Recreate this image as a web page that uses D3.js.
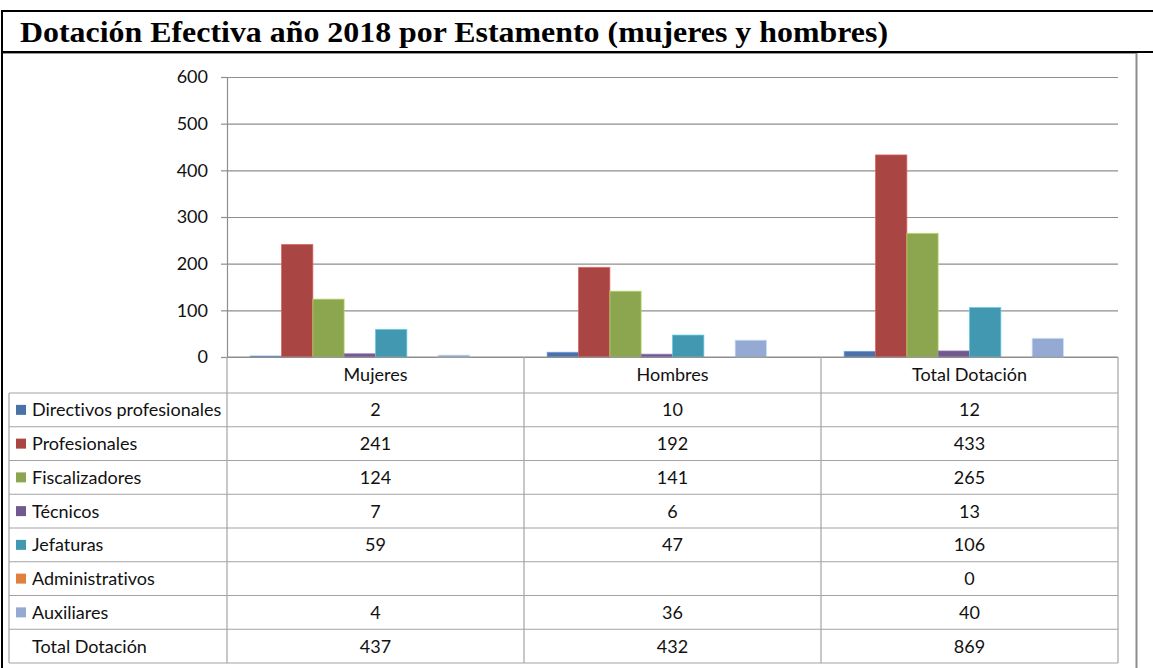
<!DOCTYPE html>
<html>
<head>
<meta charset="utf-8">
<script src="https://cdn.jsdelivr.net/npm/d3@7"></script>
<style>
  html, body { margin: 0; padding: 0; background: #fff; }
  svg { display: block; }
  text { font-variant-ligatures: none; }
</style>
</head>
<body>
<svg id="chart" width="1153" height="668"></svg>
<script>
const title = "Dotación Efectiva año 2018 por Estamento (mujeres y hombres)";
const categories = ["Mujeres", "Hombres", "Total Dotación"];
const seriesNames = ["Directivos profesionales", "Profesionales", "Fiscalizadores", "Técnicos", "Jefaturas", "Administrativos", "Auxiliares", "Total Dotación"];
const mujeres = [2, 241, 124, 7, 59, null, 4, 437];
const hombres = [10, 192, 141, 6, 47, null, 36, 432];
const totalDotacion = [12, 433, 265, 13, 106, 0, 40, 869];
const seriesColors = ["#4A72A8", "#A94542", "#8BA64F", "#715990", "#4298B0", "#E1803E", "#95AAD2", null];
const yTicks = [0, 100, 200, 300, 400, 500, 600];

const valuesByCategory = [mujeres, hombres, totalDotacion];

const svg = d3.select("#chart");
const FONT = "Lato, 'Open Sans', sans-serif";
const FS = 18;
const TXT = "#111";

// ---- Title box ----
svg.append("line").attr("x1", 1).attr("x2", 1153).attr("y1", 11).attr("y2", 11).attr("stroke", "#000").attr("stroke-width", 2);
svg.append("line").attr("x1", 1).attr("x2", 1153).attr("y1", 52).attr("y2", 52).attr("stroke", "#000").attr("stroke-width", 2);
svg.append("line").attr("x1", 2).attr("x2", 2).attr("y1", 10).attr("y2", 668).attr("stroke", "#000").attr("stroke-width", 2);
svg.append("text").attr("x", 20).attr("y", 42)
  .attr("font-family", "'Liberation Serif', 'Times New Roman', serif")
  .attr("font-weight", "bold").attr("font-size", 30).attr("fill", "#000")
  .attr("textLength", 868).attr("lengthAdjust", "spacingAndGlyphs")
  .text(title);

// chart frame
svg.append("line").attr("x1", 3).attr("x2", 1137).attr("y1", 53.5).attr("y2", 53.5).attr("stroke", "#999").attr("stroke-width", 1);
svg.append("line").attr("x1", 1136.5).attr("x2", 1136.5).attr("y1", 53).attr("y2", 668).attr("stroke", "#8c8c8c").attr("stroke-width", 2);

// ---- Scales ----
const plotLeft = 227, plotRight = 1118, plotTop = 77, plotBottom = 357;
const x = d3.scaleBand().domain(categories).range([plotLeft, plotRight]).padding(0);
const xs = d3.scaleBand().domain(seriesNames).range([0, x.bandwidth()]).paddingInner(0).paddingOuter(0.74);
const y = d3.scaleLinear().domain([0, 600]).range([plotBottom, plotTop]);

// gridlines
const grid = svg.append("g").attr("transform", `translate(${plotLeft},0)`)
  .call(d3.axisLeft(y).tickValues(yTicks).tickSize(-(plotRight - plotLeft)).tickFormat(""));
grid.select(".domain").remove();
grid.selectAll(".tick line").attr("stroke", "#8e8e8e").attr("stroke-width", 1.2);

// bars
const barData = [];
categories.forEach((c, ci) => {
  seriesNames.forEach((s, si) => {
    const v = valuesByCategory[ci][si];
    if (v != null && seriesColors[si]) barData.push({ c, s, v, color: seriesColors[si] });
  });
});
svg.append("g").selectAll("rect").data(barData).join("rect")
  .attr("x", d => x(d.c) + xs(d.s))
  .attr("y", d => y(d.v))
  .attr("width", xs.bandwidth())
  .attr("height", d => y(0) - y(d.v))
  .attr("fill", d => d.color)
  .attr("stroke", d => d3.color(d.color).brighter(0.8))
  .attr("stroke-opacity", 0.7)
  .attr("stroke-width", 1);

// y axis
const yAxis = svg.append("g").attr("transform", `translate(${plotLeft},0)`)
  .call(d3.axisLeft(y).tickValues(yTicks).tickSize(6).tickSizeOuter(0).tickPadding(13));
yAxis.select(".domain").attr("stroke", "#8e8e8e").attr("stroke-width", 1.2);
yAxis.selectAll(".tick line").attr("stroke", "#8e8e8e").attr("stroke-width", 1.2);
yAxis.selectAll(".tick text").attr("font-family", FONT).attr("font-size", FS).attr("fill", TXT);

// ---- Data table ----
const tableLeft = 9, tableBottom = 663, headerTop = plotBottom, rowsTop = 393;
const rowY = d3.scaleBand().domain(seriesNames).range([rowsTop, tableBottom]).padding(0);
const lineColor = "#a3a3a3";
const tbl = svg.append("g");

// horizontal lines
tbl.append("line").attr("x1", plotLeft).attr("x2", plotRight).attr("y1", headerTop).attr("y2", headerTop).attr("stroke", "#8e8e8e").attr("stroke-width", 1.2);
seriesNames.forEach(s => {
  tbl.append("line").attr("x1", tableLeft).attr("x2", plotRight).attr("y1", rowY(s)).attr("y2", rowY(s)).attr("stroke", lineColor).attr("stroke-width", 1.2);
});
tbl.append("line").attr("x1", tableLeft).attr("x2", plotRight).attr("y1", tableBottom).attr("y2", tableBottom).attr("stroke", lineColor).attr("stroke-width", 1.2);
// vertical lines
tbl.append("line").attr("x1", tableLeft).attr("x2", tableLeft).attr("y1", rowsTop).attr("y2", tableBottom).attr("stroke", lineColor).attr("stroke-width", 1.2);
[plotLeft, ...categories.map(c => x(c) + x.bandwidth())].forEach(px => {
  tbl.append("line").attr("x1", px).attr("x2", px).attr("y1", headerTop).attr("y2", tableBottom).attr("stroke", lineColor).attr("stroke-width", 1.2);
});

// header labels
tbl.selectAll("text.cat").data(categories).join("text").attr("class", "cat")
  .attr("x", c => x(c) + x.bandwidth() / 2)
  .attr("y", (headerTop + rowsTop) / 2)
  .attr("dy", "0.36em").attr("text-anchor", "middle")
  .attr("font-family", FONT).attr("font-size", FS).attr("fill", TXT)
  .text(c => c);

// row labels + keys
const rows = tbl.selectAll("g.row").data(seriesNames).join("g").attr("class", "row")
  .attr("transform", s => `translate(0,${rowY(s) + rowY.bandwidth() / 2})`);
rows.filter((s, i) => seriesColors[i]).append("rect")
  .attr("x", 16).attr("y", -5).attr("width", 10).attr("height", 10)
  .attr("fill", s => seriesColors[seriesNames.indexOf(s)]);
rows.append("text").attr("x", 32).attr("dy", "0.36em")
  .attr("font-family", FONT).attr("font-size", FS).attr("fill", TXT)
  .text(s => s);
// values
categories.forEach((c, ci) => {
  rows.append("text")
    .attr("x", x(c) + x.bandwidth() / 2).attr("dy", "0.36em").attr("text-anchor", "middle")
    .attr("font-family", FONT).attr("font-size", FS).attr("fill", TXT)
    .text(s => {
      const v = valuesByCategory[ci][seriesNames.indexOf(s)];
      return v == null ? "" : v;
    });
});
</script>
</body>
</html>
